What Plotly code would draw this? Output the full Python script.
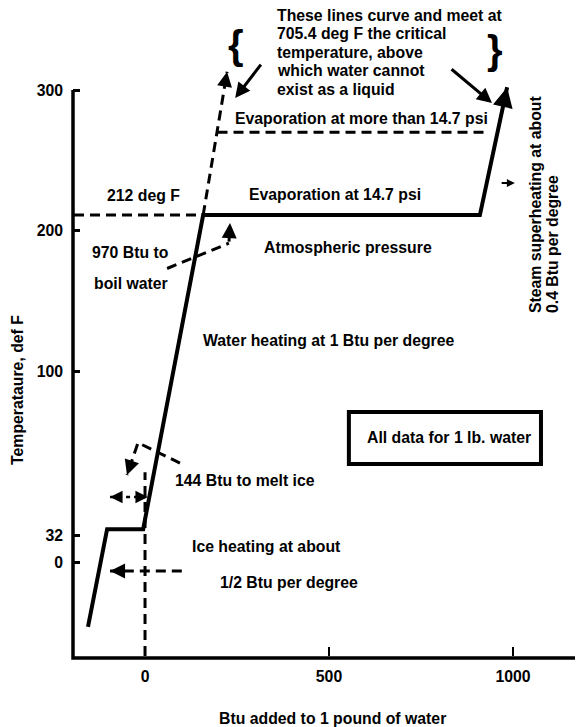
import plotly.graph_objects as go

# heating curve of 1 lb of water (x = Btu added, y = plotted temperature position;
# the chart's scale is broken below 100 deg F, so 32 and 0 sit at their drawn spots)
curve_btu = [-155, -103, -5, 158, 910, 984]
curve_temp = [-82, -12.5, -12.5, 211, 211, 302]

# dashed guide lines
boil_btu = [-193, 158]
boil_temp = [211, 211]
rise_btu = [158, 223]
rise_temp = [211, 313]
high_p_btu = [197, 924]
high_p_temp = [270, 270]
zero_btu = [0, 0]
zero_temp = [-102.8, 28]
boil_ptr_btu = [60, 228]
boil_ptr_temp = [173, 191]
melt_ptr_btu = [95, -19, -49]
melt_ptr_temp = [34.5, 49, 26]
ice_ptr_btu = [100, -95]
ice_ptr_temp = [-42.3, -42.3]
melt_span_btu = [-95, 8]
melt_span_temp = [10.3, 10.3]

# ticks
ytick_pos = [300, 200, 100, -16.7, -35.9]
ytick_text = ["300", "200", "100", "32", "0"]
xtick_pos = [0, 500, 1000]

X_LO, X_HI = -195.7, 1190.2
Y_LO, Y_HI = -102.8, 358.4
PLOT_H = 648

FONT = "Liberation Sans, Arial, sans-serif"
BLACK = "black"

fig = go.Figure()

fig.add_trace(go.Scatter(x=curve_btu, y=curve_temp, mode="lines",
                         line=dict(color=BLACK, width=4), hoverinfo="skip"))

dash = "10px,6px"
for xs, ys in [(boil_btu, boil_temp), (rise_btu, rise_temp), (high_p_btu, high_p_temp),
               (zero_btu, zero_temp), (boil_ptr_btu, boil_ptr_temp),
               (melt_ptr_btu, melt_ptr_temp), (ice_ptr_btu, ice_ptr_temp)]:
    fig.add_trace(go.Scatter(x=xs, y=ys, mode="lines",
                             line=dict(color=BLACK, width=3, dash=dash), hoverinfo="skip"))

fig.add_trace(go.Scatter(x=melt_span_btu, y=melt_span_temp, mode="lines",
                         line=dict(color=BLACK, width=2.5, dash="4px,4px"), hoverinfo="skip"))


def arrow(x, y, ax, ay, width=3, head=2, size=1.0):
    fig.add_annotation(x=x, y=y, ax=ax, ay=ay, xref="x", yref="y", axref="x", ayref="y",
                       text="", showarrow=True, arrowhead=head, arrowsize=size,
                       arrowwidth=width, arrowcolor=BLACK, standoff=0, startstandoff=0)


# arrowheads
arrow(984, 302, 975.3, 291.7, width=4)          # superheating line
arrow(223, 313, 217.4, 304.4, width=3)          # rising dashed line
arrow(231, 205.3, 228, 191, width=3)            # 970 Btu pointer
arrow(-49, 26, -34, 37.4, width=3)              # 144 Btu pointer
arrow(-95, -42.3, -54, -42.3, width=3)          # ice heating pointer
arrow(-95, 10.3, -75, 10.3, width=2.5)          # melt span
arrow(8, 10.3, -12, 10.3, width=2.5)
arrow(245, 294.3, 318, 319.2, width=3)          # note -> left
arrow(943, 290.7, 829, 315.7, width=3)          # note -> right
arrow(1005, 233.8, 965, 233.8, width=2, size=0.8)

texts = [
    ("212 deg F", -5, 225.3, "center"),
    ("Evaporation at 14.7 psi", 516, 226, "center"),
    ("970 Btu to", -39, 184.7, "center"),
    ("boil water", -39, 162.6, "center"),
    ("Atmospheric pressure", 552, 188.3, "center"),
    ("Water heating at 1 Btu per degree", 501, 122, "center"),
    ("All data for 1 lb. water", 826, 53, "center"),
    ("144 Btu to melt ice", 273, 22.4, "center"),
    ("Ice heating at about", 122, -24.6, "left"),
    ("1/2 Btu per degree", 198, -50.2, "left"),
    ("Evaporation at more than 14.7 psi", 239, 280.1, "left"),
    ("These lines curve and meet at", 353, 353.4, "left"),
    ("705.4 deg F the critical", 353, 340.2, "left"),
    ("temperature, above", 353, 327.0, "left"),
    ("which water cannot", 353, 313.9, "left"),
    ("exist as a liquid", 353, 300.7, "left"),
]
for t, x, y, xa in texts:
    fig.add_annotation(x=x, y=y, xref="x", yref="y", text=t, showarrow=False,
                       xanchor=xa, yanchor="middle")

for t, x in [("Steam superheating at about", 1060), ("0.4 Btu per degree", 1106)]:
    fig.add_annotation(x=x, y=139.9, xref="x", yref="y", text=t, showarrow=False,
                       textangle=-90, xanchor="center", yanchor="bottom")

for t, x, y in [("{", 247, 332), ("}", 951, 328.5)]:
    fig.add_annotation(x=x, y=y, xref="x", yref="y", text=t, showarrow=False,
                       xanchor="center", yanchor="middle", font=dict(size=40))

# axis titles
fig.add_annotation(x=-0.108, y=(656 - 390) / PLOT_H, xref="paper", yref="paper",
                   showarrow=False, text="Temperataure, def F", textangle=-90,
                   xanchor="center", yanchor="middle")
fig.add_annotation(x=0.508, y=(656 - 718) / PLOT_H, xref="paper", yref="paper",
                   showarrow=False, text="Btu added to 1 pound of water",
                   xanchor="center", yanchor="middle")

# note box
fig.add_shape(type="rect", x0=554, x1=1076, y0=33.8, y1=70.8, xref="x", yref="y",
              line=dict(color=BLACK, width=4))

# axis lines (y axis stops at 300)
top = (300 - Y_LO) / (Y_HI - Y_LO)
bot = -2 / PLOT_H
fig.add_shape(type="path", xref="paper", yref="paper",
              path=f"M 0,{top} L 0,{bot} L 1,{bot}", line=dict(color=BLACK, width=3.5))

fig.update_layout(
    width=575, height=719,
    margin=dict(l=65, r=0, t=0, b=71),
    paper_bgcolor="white", plot_bgcolor="white",
    showlegend=False,
    font=dict(family=FONT, size=15.8, color=BLACK, weight="bold"),
    xaxis=dict(range=[X_LO, X_HI], tickvals=xtick_pos, ticks="inside", ticklen=9,
               tickwidth=2, tickcolor=BLACK, showgrid=False, zeroline=False,
               showline=False, ticklabelstandoff=9),
    yaxis=dict(range=[Y_LO, Y_HI], tickvals=ytick_pos, ticktext=ytick_text,
               ticks="inside", ticklen=7, tickwidth=3, tickcolor=BLACK,
               showgrid=False, zeroline=False, showline=False,
               ticklabelstandoff=9),
)

fig.write_html("out.html")
